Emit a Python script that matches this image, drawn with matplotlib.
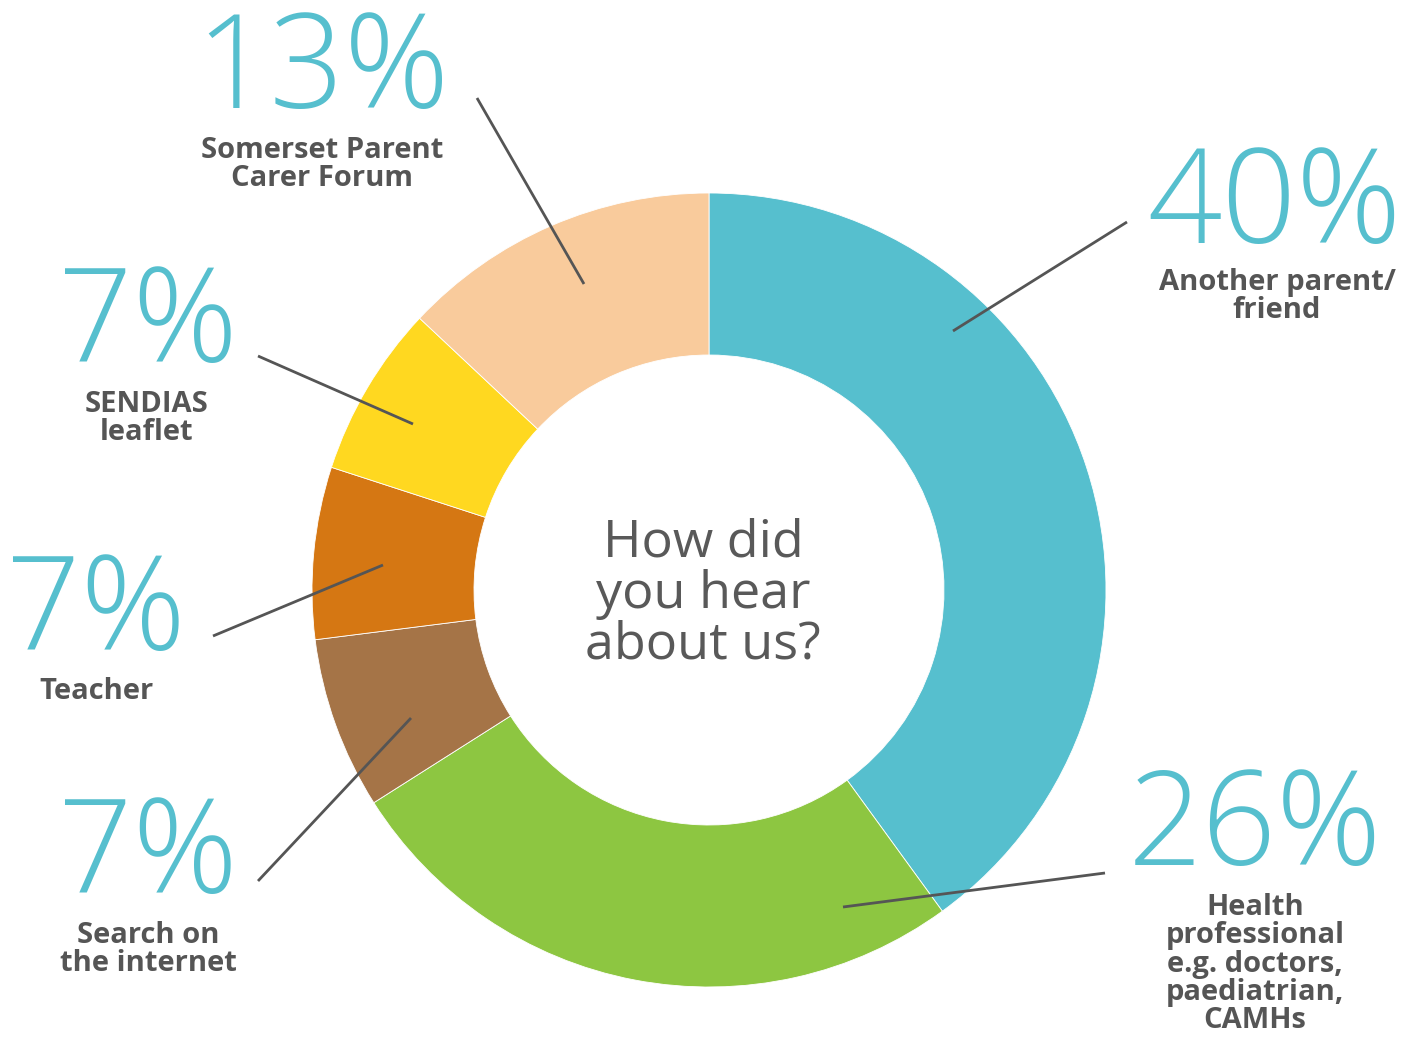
import matplotlib
matplotlib.use("Agg")
import matplotlib.pyplot as plt

# Survey: how people heard about the service
categories = ["Another parent/\nfriend",
              "Health\nprofessional\ne.g. doctors,\npaediatrian,\nCAMHs",
              "Search on\nthe internet",
              "Teacher",
              "SENDIAS\nleaflet",
              "Somerset Parent\nCarer Forum"]
shares = [40, 26, 7, 7, 7, 13]
colors = ["#56BFCE", "#8DC641", "#A57447", "#D57713", "#FFD820", "#F9CB9C"]
center_title = "How did\nyou hear\nabout us?"

W, H = 1422, 1038
fig = plt.figure(figsize=(W / 100, H / 100), dpi=100)
ax = fig.add_axes([0, 0, 1, 1])
ax.set_xlim(0, W)
ax.set_ylim(0, H)
ax.set_aspect("equal")
ax.axis("off")

cx, cy = 709, H - 590
r_out, r_in = 397, 235

ax.pie(shares, colors=colors, startangle=90, counterclock=False,
       radius=r_out, center=(cx, cy), frame=True,
       wedgeprops=dict(width=r_out - r_in, edgecolor="white", linewidth=0.6))
ax.set_xlim(0, W)
ax.set_ylim(0, H)
ax.axis("off")

ax.text(cx - 6, H - 594, center_title, ha="center", va="center",
        fontsize=37.5, color="#595959", family="Open Sans", linespacing=1.0)

teal = "#56BFCE"
grey = "#555555"

# label placement: (number x, number baseline y, label x, first line center y,
#                   leader start, leader end) in pixel units from top-left
layout = [
    (1275, 243, 1277, 279, (1127, 222), (953, 331)),
    (1255, 865, 1255, 904, (1105, 873), (843, 907)),
    (148, 893, 148, 932, (258, 881), (411, 718)),
    (96, 650, 96, 688, (213, 636), (383, 565)),
    (148, 362, 147, 401, (258, 356), (413, 424)),
    (322, 108, 322, 147, (477, 98), (584, 284)),
]

for share, label, (nx, ny, lx, ly, p0, p1) in zip(shares, categories, layout):
    ax.text(nx, H - ny, f"{share}%", ha="center", va="baseline",
            fontsize=94, color=teal, family="Open Sans", fontweight="light")
    ax.text(lx, H - ly + 11, label, ha="center", va="top",
            fontsize=21, color=grey, family="Open Sans", fontweight="bold",
            linespacing=0.97)
    ax.plot([p0[0], p1[0]], [H - p0[1], H - p1[1]], color=grey, lw=2,
            solid_capstyle="butt")

fig.savefig("out.png", dpi=100, facecolor="white")
